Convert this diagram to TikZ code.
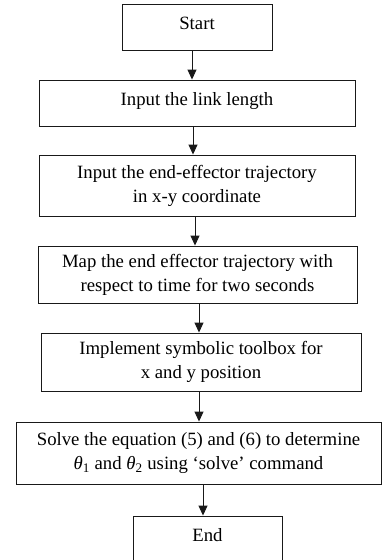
\documentclass[tikz,border=0pt]{standalone}
\usepackage{fontspec}
\setmainfont{Liberation Serif}
\usetikzlibrary{arrows.meta}
\newcommand{\thsub}[1]{{\itshape θ}\textsubscript{#1}}
\begin{document}
\begin{tikzpicture}[x=1pt,y=-1pt,
  box/.style={draw=black!90, line width=0.9pt, rectangle, inner sep=0pt,
    font=\fontsize{18.75}{24}\selectfont, align=center},
  oneline/.style={box, text height=12.4pt, text depth=8pt},
  arr/.style={draw=black!90, line width=0.9pt, -{Triangle[width=9pt,length=10pt]}}]
\useasboundingbox (0,0) rectangle (382,560);
\node[oneline, minimum width=150pt, minimum height=46pt] (start) at (197,27) {Start};
\node[oneline, minimum width=316pt, minimum height=46pt] (b2) at (197,103) {Input the link length};
\node[box, minimum width=316pt, minimum height=61pt] (b3) at (197,185.5) {Input the end-effector trajectory\\in x-y coordinate};
\node[box, minimum width=319pt, minimum height=57pt] (b4) at (197.5,274.5) {Map the end effector trajectory with\\respect to time for two seconds};
\node[box, minimum width=320pt, minimum height=58pt] (b5) at (201,362) {Implement symbolic toolbox for\\x and y position};
\node[box, minimum width=365pt, minimum height=62pt] (b6) at (198.5,453) {Solve the equation (5) and (6) to determine\\\thsub{1} and \thsub{2} using ‘solve’ command};
\node[oneline, minimum width=149pt, minimum height=46pt] (end) at (207.5,539) {End};
\draw[arr] ([xshift=-5pt]start.south) -- ([xshift=-5pt]b2.north);
\draw[arr] ([xshift=-4pt]b2.south) -- ([xshift=-4pt]b3.north);
\draw[arr] ([xshift=-2pt]b3.south) -- ([xshift=-2.5pt]b4.north);
\draw[arr] ([xshift=1.5pt]b4.south) -- ([xshift=-2pt]b5.north);
\draw[arr] ([xshift=-2pt]b5.south) -- ([xshift=0.5pt]b6.north);
\draw[arr] ([xshift=4.5pt]b6.south) -- ([xshift=-4.5pt]end.north);
\end{tikzpicture}
\end{document}
